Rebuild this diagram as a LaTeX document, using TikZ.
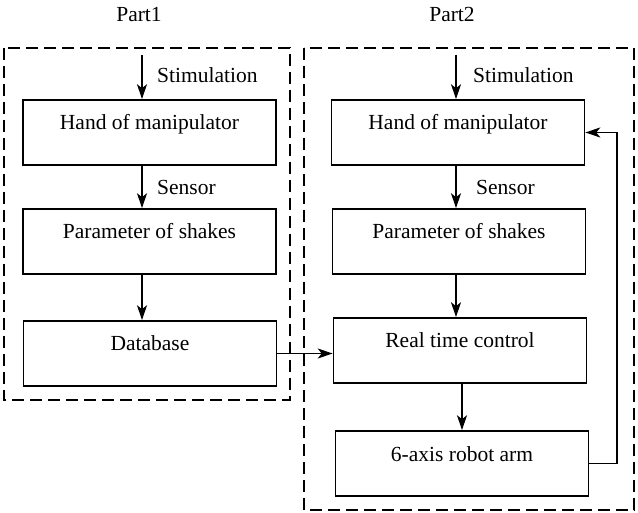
\documentclass[tikz,border=0pt]{standalone}
\usepackage{fontspec}
\setmainfont{Liberation Serif}
\usetikzlibrary{arrows.meta,calc}

\begin{document}
\begin{tikzpicture}[
  x=1pt,y=-1pt,
  block/.style={draw=black,line width=1.6pt,minimum width=253pt,inner sep=0pt,text height=30pt,text depth=35pt,font=\fontsize{21.5}{25}\selectfont},
  part/.style={dash pattern=on 12pt off 6pt,line width=1.6pt},
  flow/.style={draw=black,line width=1.4pt,-{Stealth[length=15pt,width=10pt,inset=4pt]}},
  tag/.style={anchor=base west,inner sep=0pt,font=\fontsize{21.5}{25}\selectfont},
  title/.style={anchor=base,inner sep=0pt,font=\fontsize{21.5}{25}\selectfont}
]
\fill[white] (0,0) rectangle (638,513);
\useasboundingbox (0,0) rectangle (638,513);
\draw[part] (4,48) rectangle (290,400);
\draw[part] (304,48) rectangle (634,510);
\node[title] (partA) at (139,22) {Part1};
\node[title] (partB) at (452,22) {Part2};
\node[block] (handA) at (149.5,132.5) {Hand of manipulator};
\node[block] (shakeA) at (149.5,241.5) {Parameter of shakes};
\node[block] (dbA) at (150,353.5) {Database};
\node[block] (handB) at (458,132.5) {Hand of manipulator};
\node[block] (shakeB) at (459,241.5) {Parameter of shakes};
\node[block] (ctrlB) at (460,350.5) {Real time control};
\node[block] (armB) at (462,463.5) {6-axis robot arm};
\coordinate (stimA) at (142,55);
\coordinate (stimB) at (456,55);
\coordinate (back) at (617,132.5);
\draw[flow] (stimA) -- (handA.north -| stimA);
\draw[flow] (handA.south -| stimA) -- (shakeA.north -| stimA);
\draw[flow] (shakeA.south -| stimA) -- (dbA.north -| stimA);
\draw[flow] (stimB) -- (handB.north -| stimB);
\draw[flow] (handB.south -| stimB) -- (shakeB.north -| stimB);
\draw[flow] (shakeB.south -| stimB) -- (ctrlB.north -| stimB);
\draw[flow] (ctrlB.south -| armB.north) -- (armB.north);
\draw[flow] (dbA.east) -- (ctrlB.west |- dbA.east);
\draw[flow] (armB.east) -| (back) -- (handB.east);
\node[tag] (stimtA) at (157,83) {Stimulation};
\node[tag] (senstA) at (157,195) {Sensor};
\node[tag] (stimtB) at (473,83) {Stimulation};
\node[tag] (senstB) at (476,195) {Sensor};
\end{tikzpicture}
\end{document}
